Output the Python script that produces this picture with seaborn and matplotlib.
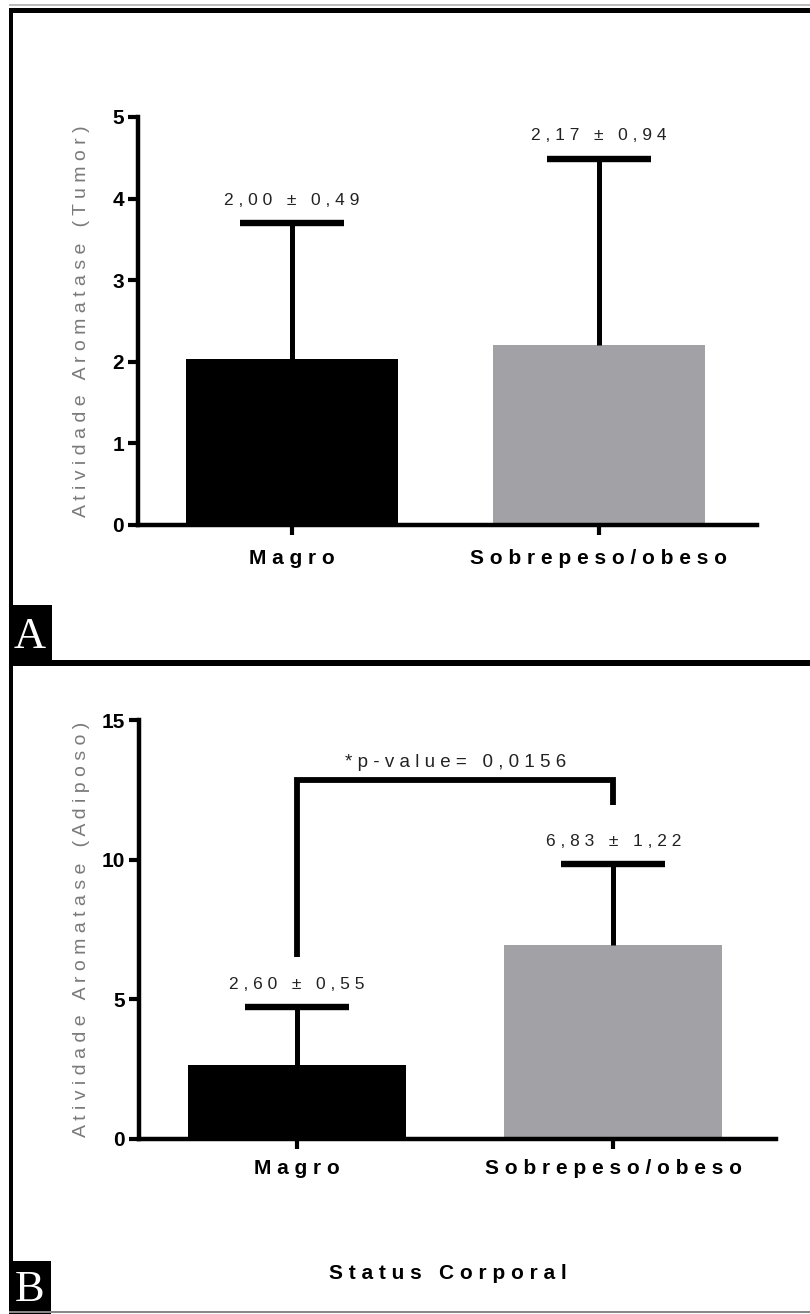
import numpy as np
import pandas as pd
import matplotlib
matplotlib.use("Agg")
import matplotlib.pyplot as plt
import seaborn as sns
from matplotlib.patches import Rectangle

# ---------------- data ----------------
groups = ["Magro", "Sobrepeso/obeso"]
tumor_mean = [2.04, 2.20]
tumor_err = [1.66, 2.29]
tumor_text = ["2,00 ± 0,49", "2,17 ± 0,94"]
adiposo_mean = [2.64, 6.94]
adiposo_err = [2.08, 2.90]
adiposo_text = ["2,60 ± 0,55", "6,83 ± 1,22"]
tumor_yticks = [0, 1, 2, 3, 4, 5]
adiposo_yticks = [0, 5, 10, 15]
p_text = "*p-value= 0,0156"
bracket_levels = [6.5, 12.85, 12.85, 11.95]
ylabel_tumor = "Atividade Aromatase (Tumor)"
ylabel_adiposo = "Atividade Aromatase (Adiposo)"
xlabel_text = "Status Corporal"
panel_letters = ["A", "B"]

# ---------------- style ----------------
sns.set_style("ticks")
plt.rcParams["font.family"] = ["Liberation Sans", "DejaVu Sans"]

W, H = 810, 1314
fig = plt.figure(figsize=(W / 100, H / 100), dpi=100)
fig.patch.set_facecolor("white")

palette = ["#000000", "#a2a2a6"]


def rect_px(l, t, r, b):
    return [l / W, 1 - b / H, (r - l) / W, (b - t) / H]


def spaced(s):
    return " ".join(s)


def panel(rect, means, errs, texts, yticks, ylabel, label_x, xpad):
    ax = fig.add_axes(rect)
    df = pd.DataFrame({"grupo": groups, "valor": means})
    sns.barplot(data=df, x="grupo", y="valor", hue="grupo", palette=palette,
                width=0.69, errorbar=None, legend=False, linewidth=0,
                saturation=1, ax=ax, zorder=2)
    xs = np.arange(len(groups))
    _, caplines, _ = ax.errorbar(x=xs, y=means,
                                 yerr=[np.zeros(len(groups)), errs], fmt="none",
                                 ecolor="black", elinewidth=3.6, capsize=37.5,
                                 capthick=4.6, zorder=3)
    # one-sided error bars: hide the caps that sit on the bar tops
    for cl in caplines:
        if np.allclose(cl.get_ydata(), means):
            cl.set_visible(False)
    for i, (m, e, t) in enumerate(zip(means, errs, texts)):
        ax.annotate(spaced(t), xy=(i, m + e), xytext=(0, 16.5),
                    textcoords="offset points", ha="center", va="center",
                    fontsize=12.5, color="#222222")
    sns.despine(ax=ax)
    for s in ("left", "bottom"):
        ax.spines[s].set_linewidth(3.2)
        ax.spines[s].set_color("black")
        ax.spines[s].set_capstyle("projecting")
    ax.set_xlim(-0.5, 1.515)
    ax.set_ylim(0, max(yticks))
    ax.set_yticks(yticks)
    ax.set_xticks(xs)
    ax.set_xticklabels([spaced(g) for g in groups])
    ax.tick_params(axis="y", length=7, width=3, labelsize=15, pad=3, colors="black")
    ax.tick_params(axis="x", length=7, width=3, labelsize=15, pad=xpad, colors="black")
    for lbl in ax.get_xticklabels() + ax.get_yticklabels():
        lbl.set_fontweight("bold")
    ax.set_xlabel("")
    ax.set_ylabel(spaced(ylabel), fontsize=14, color="#7a7a7a")
    ax.yaxis.label.set_va("center")
    ax.yaxis.set_label_coords(label_x, 0.5)
    ax.set_facecolor("white")
    return ax


axA = panel(rect_px(138, 117, 757, 525), tumor_mean, tumor_err, tumor_text,
            tumor_yticks, ylabel_tumor, -0.092, 10)
axB = panel(rect_px(139, 720, 776, 1139), adiposo_mean, adiposo_err, adiposo_text,
            adiposo_yticks, ylabel_adiposo, -0.091, 7.5)

# significance bracket
axB.plot([0, 0, 1, 1], bracket_levels, color="black", lw=4.2,
         solid_joinstyle="miter", solid_capstyle="butt", clip_on=False, zorder=4)
axB.annotate(spaced(p_text), xy=(0.5, bracket_levels[1]), xytext=(0, 13),
             textcoords="offset points", ha="center", va="center",
             fontsize=13.5, color="#222222")

axB.set_xlabel(spaced(xlabel_text), fontsize=15, fontweight="bold", color="black")
axB.xaxis.label.set_va("center")
axB.xaxis.set_label_coords(0.485, -0.32)

# ---------------- frame decorations ----------------
def frect(l, t, r, b, color):
    fig.add_artist(Rectangle((l / W, 1 - b / H), (r - l) / W, (b - t) / H,
                             transform=fig.transFigure, facecolor=color,
                             edgecolor="none", zorder=10))

frect(9, 4.5, W, 5.5, "#bbbbbb")      # thin grey line at very top
frect(9, 8, W, 13, "black")           # top border
frect(9, 8, 13, H, "black")           # left border
frect(9, 660, W, 666, "black")        # divider between panels
frect(9, 605, 52, 663, "black")       # A box
frect(9, 1261, 51, H, "black")        # B box
frect(9, 1311, W, 1312.5, "#888888")  # bottom grey line

fig.text(30 / W, 1 - 637 / H, panel_letters[0], color="white", fontsize=32,
         family=["Liberation Serif", "DejaVu Serif"], ha="center", va="center",
         zorder=11)
fig.text(30 / W, 1 - 1290 / H, panel_letters[1], color="white", fontsize=32,
         family=["Liberation Serif", "DejaVu Serif"], ha="center", va="center",
         zorder=11)

fig.savefig("out.png", dpi=100, facecolor="white")
